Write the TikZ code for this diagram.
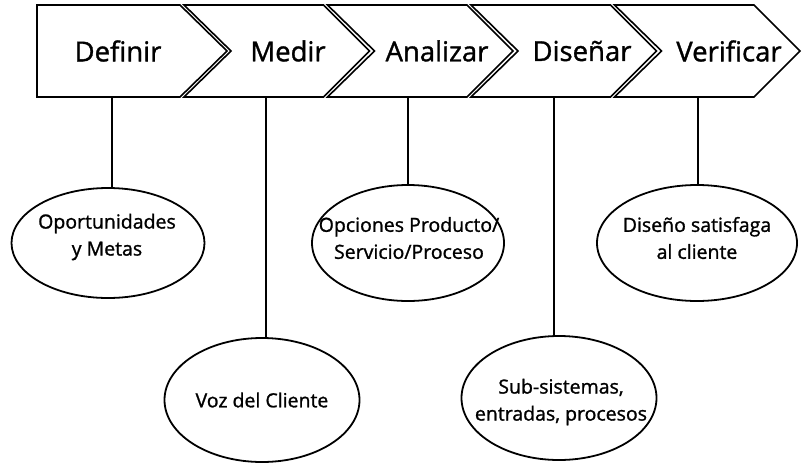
\documentclass[tikz,border=0pt]{standalone}
\usepackage{fontspec}
\setmainfont{Open Sans}
\newfontfamily\comicish{Open Sans}[FakeBold=1.2]
\usetikzlibrary{shapes.geometric}
\begin{document}
\begin{tikzpicture}[x=1pt,y=-1pt,
  chev/.style={draw=black,line width=1.6pt,line join=miter,fill=white},
  steplabel/.style={font=\comicish\fontsize{27.5}{30}\selectfont,inner sep=0pt},
  oval/.style={draw=black,line width=1.8pt,ellipse,inner sep=0pt},
  ovaltext/.style={inner sep=0pt,align=center,font=\comicish\fontsize{19.5}{27}\selectfont},
  stem/.style={line width=2.8pt}]
\useasboundingbox (0,0) rectangle (803,469);
% chevrons
\draw[chev] (37,5) -- (180,5) -- (227,51) -- (180,97) -- (37,97) -- cycle;
\foreach \s [evaluate=\s as \l using \s-143.5+4] in {323.5,467,610.5,754}{
  \draw[chev] (\l,5) -- (\s,5) -- (\s+46,51) -- (\s,97) -- (\l,97) -- (\l+47,51) -- cycle;
}
\node[steplabel] (d) at (118,51) {Definir};
\node[steplabel] (m) at (288,51) {Medir};
\node[steplabel] (a) at (437,51) {Analizar};
\node[steplabel] (s) at (582,51) {Diseñar};
\node[steplabel] (v) at (729,51) {Verificar};
\coordinate (cd) at (112,97);
\coordinate (cm) at (266,97);
\coordinate (ca) at (408,97);
\coordinate (cs) at (554,97);
\coordinate (cv) at (698,97);
% ellipses
\node[oval,minimum width=193pt,minimum height=110pt] (e1) at (108,243) {};
\node[oval,minimum width=195pt,minimum height=124pt] (e2) at (262,400) {};
\node[oval,minimum width=192pt,minimum height=116pt] (e3) at (408,243) {};
\node[oval,minimum width=195pt,minimum height=124pt] (e4) at (559,398) {};
\node[oval,minimum width=200pt,minimum height=116pt] (e5) at (697,243) {};
\node[ovaltext] (t1) at (107,237) {Oportunidades\\y Metas};
\node[ovaltext] (t2) at (262,400) {Voz del Cliente};
\node[ovaltext] (t3) at (409,238) {Opciones Producto/\\Servicio/Proceso};
\node[ovaltext] (t4) at (561,402) {Sub-sistemas,\\entradas, procesos};
\node[ovaltext] (t5) at (697,238) {Diseño satisfaga\\al cliente};
% stems
\draw[stem] (cd) -- (cd |- e1.north);
\draw[stem] (cm) -- (cm |- e2.north);
\draw[stem] (ca) -- (ca |- e3.north);
\draw[stem] (cs) -- (cs |- e4.north);
\draw[stem] (cv) -- (cv |- e5.north);
\end{tikzpicture}
\end{document}
